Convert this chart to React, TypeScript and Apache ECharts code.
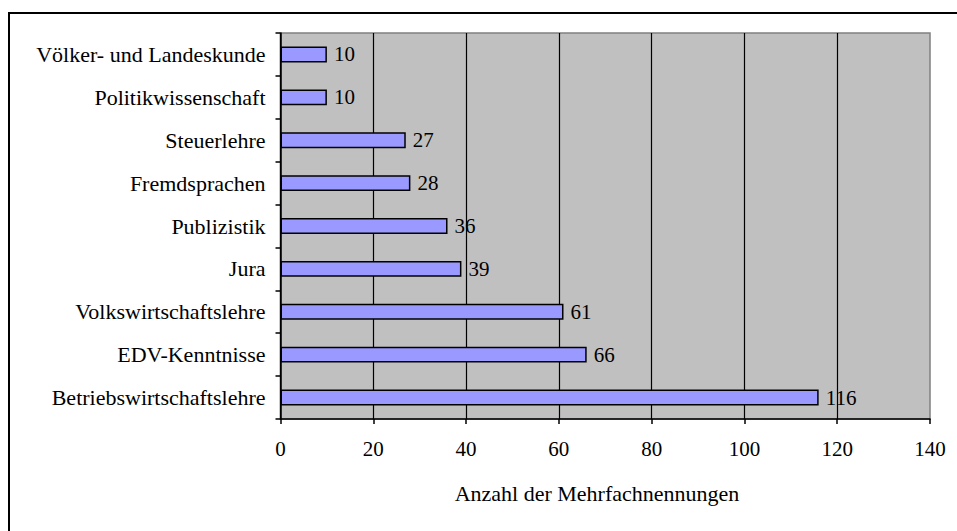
import React, { useEffect, useRef } from "react";
import * as echarts from "echarts";

const categories = [
  "Betriebswirtschaftslehre",
  "EDV-Kenntnisse",
  "Volkswirtschaftslehre",
  "Jura",
  "Publizistik",
  "Fremdsprachen",
  "Steuerlehre",
  "Politikwissenschaft",
  "Völker- und Landeskunde",
];
const values = [116, 66, 61, 39, 36, 28, 27, 10, 10];
const axisTitle = "Anzahl der Mehrfachnennungen";
const FONT = "'Liberation Serif', 'Times New Roman', serif";

export default function App() {
  const ref = useRef<HTMLDivElement>(null);
  useEffect(() => {
    if (!ref.current) return;
    const chart = echarts.init(ref.current, null, { renderer: "svg" });
    chart.setOption({
      animation: false,
      backgroundColor: "#ffffff",
      textStyle: { fontFamily: FONT, color: "#000" },
      grid: {
        left: 280.5,
        right: 27,
        top: 33,
        bottom: 112,
        show: true,
        backgroundColor: "#C0C0C0",
        borderColor: "#808080",
        borderWidth: 1.5,
      },
      xAxis: {
        type: "value",
        min: 0,
        max: 140,
        interval: 20,
        axisLine: { show: true, lineStyle: { color: "#000", width: 1.5 } },
        axisTick: { show: true, length: 5, lineStyle: { color: "#000", width: 1.5 } },
        axisLabel: { fontFamily: FONT, fontSize: 21, color: "#000", margin: 19 },
        splitLine: { show: true, showMaxLine: false, lineStyle: { color: "#000", width: 1.2 } },
      },
      yAxis: {
        type: "category",
        data: categories,
        axisLine: { show: true, lineStyle: { color: "#000", width: 1.5 } },
        axisTick: { show: true, length: 5, alignWithLabel: false, lineStyle: { color: "#000", width: 1.5 } },
        axisLabel: { fontFamily: FONT, fontSize: 22, color: "#000", margin: 15 },
        splitLine: { show: false },
      },
      series: [
        {
          type: "bar",
          data: values,
          barWidth: "37%",
          itemStyle: { color: "#9999FF", borderColor: "#000", borderWidth: 1.5 },
          label: {
            show: true,
            position: "right",
            distance: 7,
            fontFamily: FONT,
            fontSize: 21,
            color: "#000",
          },
        },
      ],
      graphic: [
        {
          type: "rect",
          shape: { x: 9, y: 13, width: 1000, height: 600 },
          style: { fill: "none", stroke: "#000", lineWidth: 2 },
          silent: true,
        },
        {
          type: "text",
          x: 597,
          y: 493,
          style: {
            text: axisTitle,
            fontFamily: FONT,
            fontSize: 22,
            fill: "#000",
            textAlign: "center",
            textVerticalAlign: "middle",
          },
        },
      ],
    });
    return () => chart.dispose();
  }, []);
  return (
    <div
      ref={ref}
      style={{ position: "fixed", left: 0, top: 0, width: 957, height: 531 }}
    />
  );
}
